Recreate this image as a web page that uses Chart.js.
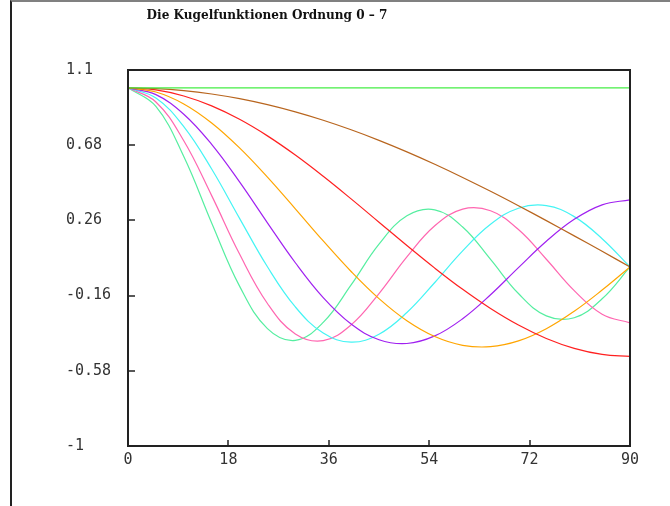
<!DOCTYPE html>
<html>
<head>
<meta charset="utf-8">
<script src="https://cdn.jsdelivr.net/npm/chart.js@4/dist/chart.umd.min.js"></script>
<style>
  html, body { margin: 0; padding: 0; background: #fff; }
  #wrap { position: relative; width: 670px; height: 506px; }
  #frame {
    position: absolute; left: 10px; top: 0; right: 0; bottom: 0;
    border-top: 2px solid #808080; border-left: 2px solid #222;
    box-sizing: border-box;
  }
  canvas { position: absolute; left: 0; top: 0; }
</style>
</head>
<body>
<div id="wrap">
  <div id="frame"></div>
  <canvas id="chart" width="670" height="506"></canvas>
</div>
<script>
const title = 'Die Kugelfunktionen Ordnung 0 \u2013 7'

// angle in degrees
const angles = [0, 5, 10, 15, 20, 25, 30, 35, 40, 45, 50, 55, 60, 65, 70, 75, 80, 85, 90]

const p0 = [1, 1, 1, 1, 1, 1, 1, 1, 1, 1, 1, 1, 1, 1, 1, 1, 1, 1, 1]
const p1 = [1, 0.9962, 0.9848, 0.9659, 0.9397, 0.9063, 0.8660, 0.8192, 0.7660, 0.7071, 0.6428, 0.5736, 0.5, 0.4226, 0.3420, 0.2588, 0.1736, 0.0872, 0]
const p2 = [1, 0.9886, 0.9548, 0.8995, 0.8245, 0.7321, 0.625, 0.5065, 0.3802, 0.25, 0.1198, -0.0065, -0.125, -0.2321, -0.3245, -0.3995, -0.4548, -0.4886, -0.5]
const p3 = [1, 0.9773, 0.9106, 0.8042, 0.6649, 0.5016, 0.3248, 0.1454, -0.0252, -0.1768, -0.3002, -0.3886, -0.4375, -0.4452, -0.4130, -0.3449, -0.2474, -0.1291, 0]
const p4 = [1, 0.9623, 0.8532, 0.6847, 0.4750, 0.2465, 0.0234, -0.1714, -0.3190, -0.4063, -0.4275, -0.3852, -0.2891, -0.1552, -0.0038, 0.1434, 0.2659, 0.3468, 0.375]
const p5 = [1, 0.9437, 0.7840, 0.5471, 0.2715, 0.0009, -0.2233, -0.3691, -0.4197, -0.3757, -0.2545, -0.0868, 0.0898, 0.2381, 0.3281, 0.3427, 0.2810, 0.1577, 0]
const p6 = [1, 0.9216, 0.7045, 0.3983, 0.0719, -0.2040, -0.3740, -0.4114, -0.3236, -0.1484, 0.0564, 0.2297, 0.3232, 0.3138, 0.2089, 0.0431, -0.1321, -0.2638, -0.3125]
const p7 = [1, 0.8962, 0.6164, 0.2455, -0.1072, -0.3441, -0.4102, -0.3096, -0.1006, 0.1271, 0.2854, 0.3191, 0.2231, 0.0422, -0.1485, -0.2731, -0.2835, -0.1778, 0]

const series = [p0, p1, p2, p3, p4, p5, p6, p7]
const colors = ['#44ee44', '#b8651e', '#ff2020', '#ffa500', '#a020f0', '#44f4f4', '#ff66b0', '#55eea0']

const xTicks = [0, 18, 36, 54, 72, 90]
const yTicks = [-1, -0.58, -0.16, 0.26, 0.68, 1.1]

const tickFont = { family: 'DejaVu Sans Mono', size: 15 }

const frame = {
  id: 'frame',
  afterDatasetsDraw(chart) {
    const { ctx, chartArea: a, scales: { x, y } } = chart
    ctx.save()
    ctx.strokeStyle = '#222'
    ctx.lineWidth = 2
    ctx.strokeRect(a.left, a.top, a.right - a.left, a.bottom - a.top)
    ctx.lineWidth = 1.5
    ctx.beginPath()
    xTicks.forEach((v) => {
      const px = Math.round(x.getPixelForValue(v))
      ctx.moveTo(px, a.bottom)
      ctx.lineTo(px, a.bottom - 6)
    })
    yTicks.forEach((v) => {
      const py = Math.round(y.getPixelForValue(v))
      ctx.moveTo(a.left, py)
      ctx.lineTo(a.left + 7, py)
    })
    ctx.stroke()
    // title
    ctx.fillStyle = '#111'
    ctx.font = 'bold 14px "DejaVu Serif"'
    const w = ctx.measureText(title).width
    const size = 14 * 241 / w
    ctx.font = `bold ${size.toFixed(2)}px "DejaVu Serif"`
    ctx.textAlign = 'center'
    ctx.textBaseline = 'middle'
    ctx.fillText(title, 267, 16)
    ctx.restore()
  },
}

new Chart(document.getElementById('chart'), {
  type: 'line',
  data: {
    datasets: series.map((s, i) => ({
      label: 'P' + i,
      data: angles.map((a, j) => ({ x: a, y: s[j] })),
      borderColor: colors[i],
      borderWidth: 1.2,
      pointRadius: 0,
      tension: 0.4,
      fill: false,
    })),
  },
  options: {
    animation: false,
    responsive: false,
    layout: { padding: { left: 66, right: 40, top: 70, bottom: 0 } },
    plugins: {
      legend: { display: false },
      tooltip: { enabled: false },
    },
    scales: {
      x: {
        type: 'linear',
        min: 0,
        max: 90,
        afterBuildTicks: (s) => { s.ticks = xTicks.map((v) => ({ value: v })) },
        afterFit: (s) => { s.height = 60 },
        grid: { display: false },
        border: { display: false },
        ticks: { color: '#333', font: tickFont, padding: -3, maxRotation: 0, autoSkip: false, callback: (v) => String(v) },
      },
      y: {
        type: 'linear',
        min: -1,
        max: 1.1,
        afterBuildTicks: (s) => { s.ticks = yTicks.map((v) => ({ value: v })) },
        afterFit: (s) => { s.width = 62 },
        grid: { display: false },
        border: { display: false },
        ticks: { color: '#333', font: tickFont, crossAlign: 'far', autoSkip: false, callback: (v) => String(v) },
      },
    },
  },
  plugins: [frame],
})
</script>
</body>
</html>
